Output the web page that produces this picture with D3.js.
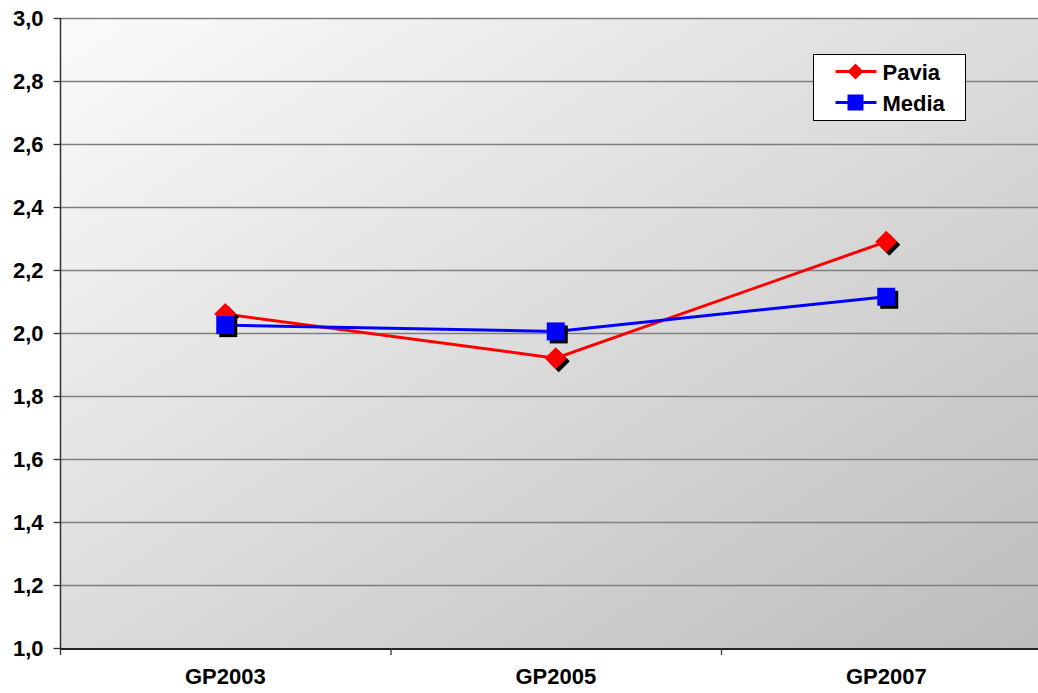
<!DOCTYPE html>
<html>
<head>
<meta charset="utf-8">
<script src="https://cdn.jsdelivr.net/npm/d3@7"></script>
<style>
  html, body { margin: 0; padding: 0; background: #ffffff; }
  svg { display: block; font-family: "Liberation Sans", Arial, sans-serif; }
</style>
</head>
<body>
<svg id="chart" width="1038" height="693"></svg>
<script>
// Categories and series
const categories = ["GP2003", "GP2005", "GP2007"];
const pavia = [2.06, 1.92, 2.29];
const media = [2.025, 2.005, 2.115];
const yTicks = [1.0, 1.2, 1.4, 1.6, 1.8, 2.0, 2.2, 2.4, 2.6, 2.8, 3.0];
const seriesNames = ["Pavia", "Media"];

const svg = d3.select("#chart");
const margin = { left: 60, top: 18, bottom: 45 };
const plotW = 991.5;
const plotH = 693 - margin.top - margin.bottom;
const fontSize = 22;

const x = d3.scaleBand().domain(categories).range([margin.left, margin.left + plotW]).paddingInner(0).paddingOuter(0);
const y = d3.scaleLinear().domain([1.0, 3.0]).range([margin.top + plotH, margin.top]);

// Diagonal gradient background
const defs = svg.append("defs");
const grad = defs.append("linearGradient").attr("id", "bg")
  .attr("x1", "0%").attr("y1", "0%").attr("x2", "100%").attr("y2", "100%");
grad.append("stop").attr("offset", "0%").attr("stop-color", "#fbfbfb");
grad.append("stop").attr("offset", "100%").attr("stop-color", "#bcbcbc");

svg.append("rect")
  .attr("x", margin.left).attr("y", margin.top)
  .attr("width", plotW).attr("height", plotH)
  .attr("fill", "url(#bg)");

// Horizontal gridlines
svg.append("g").selectAll("line").data(yTicks.slice(1)).join("line")
  .attr("x1", margin.left).attr("x2", margin.left + plotW)
  .attr("y1", d => Math.round(y(d)) + 0.5).attr("y2", d => Math.round(y(d)) + 0.5)
  .attr("stroke", "#7f7f7f").attr("stroke-width", 1.3);

// Y axis
const yAxis = d3.axisLeft(y).tickValues(yTicks).tickSize(7).tickPadding(10)
  .tickFormat(d => d3.format(".1f")(d).replace(".", ","));
const gy = svg.append("g").attr("transform", `translate(${margin.left + 0.5},0)`).call(yAxis);
gy.select(".domain").attr("stroke", "#333").attr("stroke-width", 1.5).attr("d", `M0,${y(3.0)}V${y(1.0)}`);
gy.selectAll(".tick line").attr("stroke", "#333").attr("stroke-width", 1.3);
gy.selectAll(".tick text").attr("font-size", fontSize).attr("font-weight", "bold").attr("fill", "#000")
  .attr("font-family", "'Liberation Sans', Arial, sans-serif");

// X axis
const xAxis = d3.axisBottom(x).tickSize(0).tickPadding(22);
const gx = svg.append("g").attr("transform", `translate(0,${y(1.0) + 0.5})`).call(xAxis);
gx.select(".domain").attr("stroke", "#222").attr("stroke-width", 2);
gx.selectAll(".tick text").attr("font-size", fontSize).attr("font-weight", "bold").attr("fill", "#000")
  .attr("font-family", "'Liberation Sans', Arial, sans-serif")
  .attr("dy", "0.62em");
// Category separators on x axis
svg.append("g").selectAll("line").data(categories).join("line")
  .attr("x1", d => x(d) + 0.5).attr("x2", d => x(d) + 0.5)
  .attr("y1", y(1.0)).attr("y2", y(1.0) + 7)
  .attr("stroke", "#333").attr("stroke-width", 1.3);

const cx = d => x(d) + x.bandwidth() / 2;
const line = d3.line().x(d => cx(d.c)).y(d => y(d.v));

function drawSeries(values, color, markerPath) {
  const pts = values.map((v, i) => ({ c: categories[i], v }));
  const g = svg.append("g");
  g.append("path").datum(pts).attr("d", line)
    .attr("fill", "none").attr("stroke", color).attr("stroke-width", 3);
  // drop shadow
  g.selectAll("path.shadow").data(pts).join("path").attr("class", "shadow")
    .attr("d", markerPath)
    .attr("transform", d => `translate(${cx(d.c) + 3},${y(d.v) + 3})`)
    .attr("fill", "#000");
  g.selectAll("path.mark").data(pts).join("path").attr("class", "mark")
    .attr("d", markerPath)
    .attr("transform", d => `translate(${cx(d.c)},${y(d.v)})`)
    .attr("fill", color);
}

const diamondPath = "M0,-11L11,0L0,11L-11,0Z";
const squarePath = d3.symbol().type(d3.symbolSquare).size(324)();
drawSeries(pavia, "#ff0000", diamondPath);
drawSeries(media, "#0000ff", squarePath);

// Legend
const lg = svg.append("g").attr("transform", "translate(813.5,54.5)");
lg.append("rect").attr("width", 152).attr("height", 66)
  .attr("fill", "#fff").attr("stroke", "#000").attr("stroke-width", 1);
const colors = ["#ff0000", "#0000ff"];
seriesNames.forEach((name, i) => {
  const yy = 17 + i * 31;
  lg.append("line").attr("x1", 22).attr("x2", 63).attr("y1", yy).attr("y2", yy)
    .attr("stroke", colors[i]).attr("stroke-width", 3);
  if (i === 0) {
    lg.append("path").attr("d", "M0,-8L8,0L0,8L-8,0Z").attr("transform", `translate(42,${yy})`).attr("fill", colors[i]);
  } else {
    lg.append("rect").attr("x", 34).attr("y", yy - 8).attr("width", 16).attr("height", 16).attr("fill", colors[i]);
  }
  lg.append("text").attr("x", 69).attr("y", yy + 8).text(name)
    .attr("font-size", fontSize).attr("font-weight", "bold").attr("fill", "#000");
});
</script>
</body>
</html>
